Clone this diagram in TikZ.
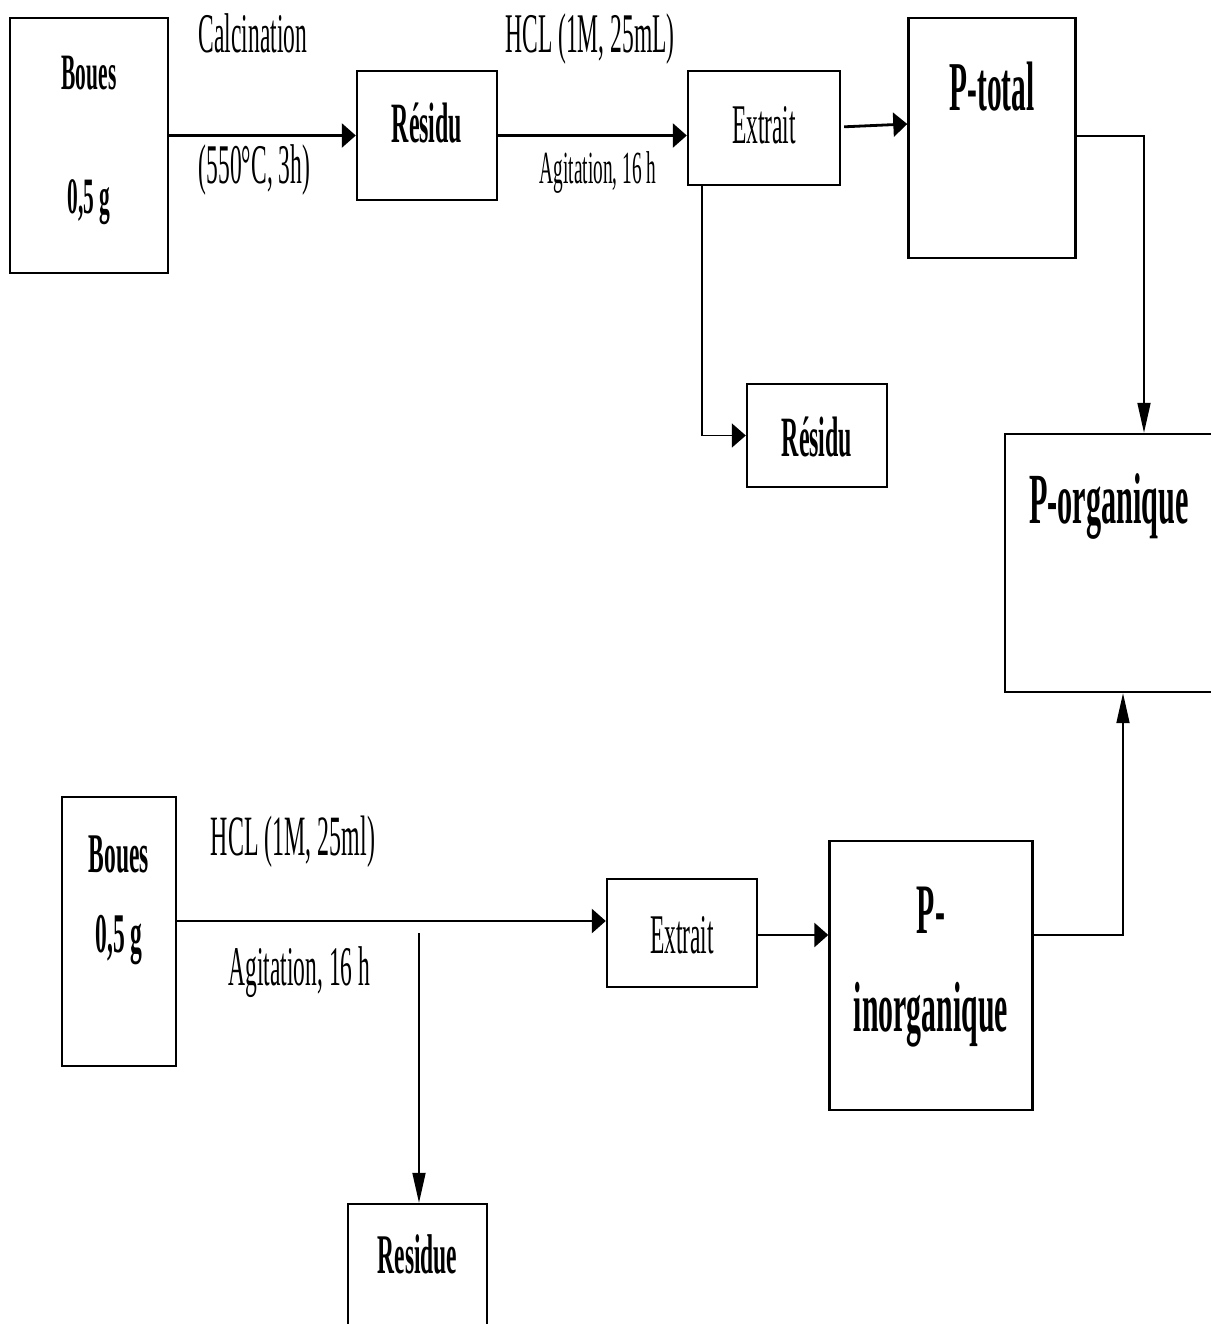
\documentclass[tikz,border=0pt]{standalone}
\usepackage{fontspec}
\setmainfont[FakeStretch=0.42]{Liberation Serif}
\usepackage{tikz}
\usetikzlibrary{arrows.meta}
\newcommand{\lift}[2]{\raisebox{#1}[0pt][0pt]{#2}}

\begin{document}
\begin{tikzpicture}[x=0.5pt,y=-0.5pt,
			box node/.style={draw,line width=1.2pt,inner sep=0pt},
			label node/.style={anchor=base,inner sep=0pt},
			main arrow/.style={line width=1.4pt,-{Triangle[length=7pt,width=12pt]}},
			thin arrow/.style={line width=0.9pt,-{Triangle[length=15pt,width=6.5pt]}}]
			
			\clip (0,0) rectangle (1211,1324);
			
			% ligne du haut
			\node[box node,minimum width=79pt,minimum height=127.5pt,
				font=\bfseries\fontsize{25.5}{62}\selectfont] (B1) at (89,145.5)
				{\lift{28.25pt}{\begin{tabular}[t]{@{}c@{}}Boues\\0,5 g\end{tabular}}};
			\node[box node,minimum width=70pt,minimum height=64.5pt,
				font=\bfseries\fontsize{28.5}{34}\selectfont] (R1) at (427,135.5)
				{\lift{-3.25pt}{Résidu}};
			\node[box node,minimum width=76pt,minimum height=57pt,
				font=\fontsize{28}{34}\selectfont] (E1) at (764,128)
				{\lift{-7.5pt}{Extrait}};
			\node[box node,minimum width=83.5pt,minimum height=120pt,
				font=\bfseries\fontsize{35}{42}\selectfont] (PT) at (992,138)
				{\lift{14pt}{P-total}};
			\node[box node,minimum width=70pt,minimum height=51.5pt,
				font=\bfseries\fontsize{28.5}{34}\selectfont] (R2) at (817,435.5)
				{\lift{-10.25pt}{Résidu}};
			\node[box node,minimum width=104pt,minimum height=129pt,
				font=\bfseries\fontsize{36}{43}\selectfont] (PO) at (1109,563)
				{\lift{20pt}{P-organique}};
			
			% ligne du bas
			\node[box node,minimum width=57pt,minimum height=134.5pt,
				font=\bfseries\fontsize{28}{40}\selectfont] (B2) at (119,931.5)
				{\lift{29.75pt}{\begin{tabular}[t]{@{}c@{}}Boues\\0,5 g\end{tabular}}};
			\node[box node,minimum width=75pt,minimum height=54pt,
				font=\fontsize{28}{34}\selectfont] (E2) at (682,933)
				{\lift{-10pt}{Extrait}};
			\node[box node,minimum width=101.5pt,minimum height=134.5pt,
				font=\bfseries\fontsize{35.5}{49.3}\selectfont] (PI) at (931,975.5)
				{\lift{21.25pt}{\begin{tabular}[t]{@{}c@{}}P-\\inorganique\end{tabular}}};
			\node[box node,minimum width=69.5pt,minimum height=68pt,
				font=\bfseries\fontsize{28}{34}\selectfont] (RD) at (417.5,1272)
				{\lift{-0.5pt}{Residue}};
			
			% textes des fleches
			\node[label node,font=\fontsize{28}{34}\selectfont] (calc) at (253,52) {Calcination};
			\node[label node,font=\fontsize{28}{34}\selectfont] (temp) at (254.5,183) {(550°C, 3h)};
			\node[label node,font=\fontsize{28}{34}\selectfont] (hcl1) at (590,52) {HCL (1M, 25mL)};
			\node[label node,font=\fontsize{23}{28}\selectfont] (agit1) at (598,183) {Agitation, 16 h};
			\node[label node,font=\fontsize{28.5}{34}\selectfont] (hcl2) at (293,855) {HCL (1M, 25ml)};
			\node[label node,font=\fontsize{28}{34}\selectfont] (agit2) at (299.5,985) {Agitation, 16 h};
			
			\coordinate (tap) at (419,933);
			
			\draw[main arrow] (B1.east |- R1.west) -- (R1.west);
			\draw[main arrow] (R1.east) -- (R1.east -| E1.west);
			\draw[main arrow] ([xshift=1.5pt,yshift=0.6pt]E1.east) -- ([yshift=7pt]PT.west);
			\draw[main arrow,line width=0.9pt] ([xshift=7.5pt]E1.south west) |- (R2.west);
			\draw[thin arrow] ([yshift=1.2pt]PT.east) -| ([xshift=17.5pt]PO.north);
			
			\draw[main arrow] (B2.east |- 0,921) -- (E2.west |- 0,921);
			\draw[thin arrow] (tap) -- (tap |- RD.north);
			\draw[main arrow] (E2.east |- 0,935) -- (PI.west |- 0,935);
			\draw[thin arrow] (PI.east |- 0,935) -| ([xshift=7pt]PO.south);
		\end{tikzpicture}
\end{document}
